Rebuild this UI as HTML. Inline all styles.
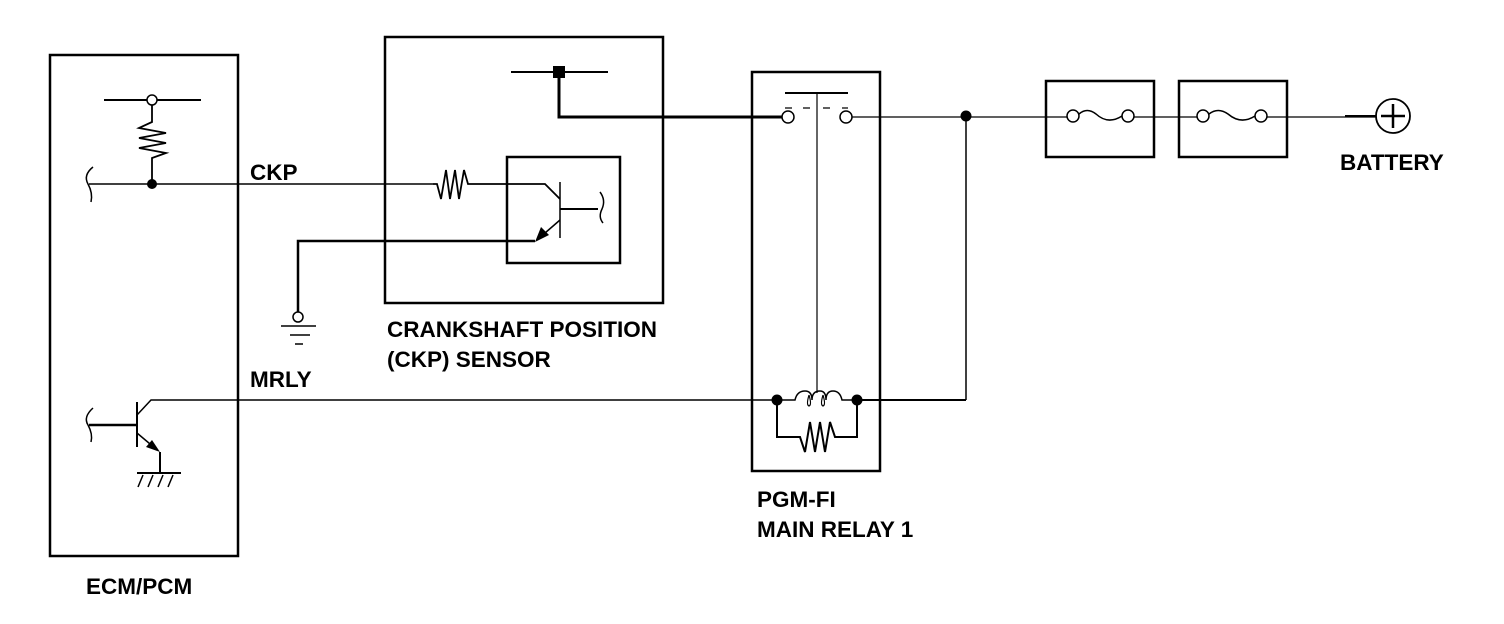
<!DOCTYPE html>
<html><head><meta charset="utf-8"><style>
html,body{margin:0;padding:0;background:#fff}
svg{display:block}
text{font-family:"Liberation Sans",Arial,sans-serif;font-weight:bold;font-size:22.5px;fill:#000}
</style></head><body>
<svg width="1504" height="624" viewBox="0 0 1504 624" xmlns="http://www.w3.org/2000/svg" fill="none" stroke="#000">
<!-- ECM box -->
<rect x="50" y="55" width="188" height="501" stroke-width="2.5"/>
<line x1="104" y1="100" x2="201" y2="100" stroke-width="2"/>
<circle cx="152" cy="100" r="5" fill="#fff" stroke-width="1.5"/>
<polyline points="152,105 152,122 139,128 166,133 139,138 166,143 139,148 166,153 152,158 152,184" stroke-width="1.8"/>
<circle cx="152" cy="184" r="5" fill="#000" stroke="none"/>
<path d="M93,167 Q83,175 88,184 Q93,193 91,202" stroke-width="1.5"/>
<line x1="89" y1="184" x2="433" y2="184" stroke-width="1.5"/>
<!-- MRLY transistor -->
<path d="M93,408 Q83,417 88,425 Q93,434 91,442" stroke-width="1.5"/>
<line x1="89" y1="425" x2="137" y2="425" stroke-width="2.5"/>
<line x1="137" y1="402" x2="137" y2="447" stroke-width="2"/>
<polyline points="137,415 151,400 780,400" stroke-width="1.5"/>
<line x1="137" y1="433" x2="156" y2="449" stroke-width="1.5"/>
<polygon points="160,452 146,447 152,440" fill="#000" stroke="none"/>
<line x1="160" y1="452" x2="160" y2="473" stroke-width="2"/>
<line x1="137" y1="473" x2="181" y2="473" stroke-width="2"/>
<path d="M143,475 L138,487 M153,475 L148,487 M163,475 L158,487 M173,475 L168,487" stroke-width="1.5"/>
<!-- ground -->
<polyline points="535,241 298,241 298,312" stroke-width="2.5"/>
<circle cx="298" cy="317" r="5" fill="#fff" stroke-width="1.5"/>
<line x1="281" y1="326" x2="316" y2="326" stroke-width="1.5"/>
<line x1="290" y1="335" x2="310" y2="335" stroke-width="1.5"/>
<line x1="295" y1="344" x2="303" y2="344" stroke-width="1.5"/>
<!-- CKP sensor -->
<rect x="385" y="37" width="278" height="266" stroke-width="2.5"/>
<line x1="511" y1="72" x2="608" y2="72" stroke-width="2"/>
<rect x="553" y="66" width="12" height="12" fill="#000" stroke="none"/>
<polyline points="559,72 559,117 783,117" stroke-width="3"/>
<rect x="507" y="157" width="113" height="106" stroke-width="2.5"/>
<polyline points="433,184 437,184 441,199 446,170 450,199 455,170 459,199 464,170 468,184 545,184 560,199" stroke-width="1.8"/>
<line x1="560" y1="182" x2="560" y2="238" stroke-width="1.5"/>
<line x1="560" y1="209" x2="598" y2="209" stroke-width="2"/>
<path d="M600,192 Q606,200 602,209 Q598,217 603,223" stroke-width="1.5"/>
<line x1="560" y1="220" x2="545" y2="233" stroke-width="1.5"/>
<polygon points="535,242 541,227 549,235" fill="#000" stroke="none"/>
<!-- relay -->
<rect x="752" y="72" width="128" height="399" stroke-width="2.5"/>
<line x1="785" y1="93" x2="848" y2="93" stroke-width="2"/>
<line x1="817" y1="93" x2="817" y2="393" stroke-width="1.2"/>
<path d="M785,108 L792,108 M803,108 L810,108 M823,108 L830,108 M842,108 L848,108" stroke-width="1.2"/>
<circle cx="788" cy="117" r="6" fill="#fff" stroke-width="1.5"/>
<circle cx="846" cy="117" r="6" fill="#fff" stroke-width="1.5"/>
<line x1="852" y1="117" x2="1067" y2="117" stroke-width="1.2"/>
<line x1="1134" y1="117" x2="1197" y2="117" stroke-width="1.2"/>
<line x1="1267" y1="117" x2="1376" y2="117" stroke-width="1.2"/>
<line x1="1345" y1="116" x2="1376" y2="116" stroke-width="2"/>
<circle cx="966" cy="116" r="5.5" fill="#000" stroke="none"/>
<line x1="966" y1="116" x2="966" y2="400" stroke-width="1.5"/>
<line x1="857" y1="400" x2="966" y2="400" stroke-width="2"/>
<path d="M777,400 L795,400 Q797,391 805,391 Q812,391 812,400 Q812,391 820,391 Q826,391 826,400 Q826,391 833,391 Q840,391 842,400 L857,400" stroke-width="1.5"/>
<path d="M809,395 Q806,405 809,406 Q812,405 809,395 M823,395 Q820,405 823,406 Q826,405 823,395" stroke-width="1.2"/>
<circle cx="777" cy="400" r="5.5" fill="#000" stroke="none"/>
<circle cx="857" cy="400" r="5.5" fill="#000" stroke="none"/>
<polyline points="777,400 777,437 800,437 805,452 810,422 815,452 820,422 825,452 830,422 835,437 857,437 857,400" stroke-width="2"/>
<!-- fuses -->
<rect x="1046" y="81" width="108" height="76" stroke-width="2.5"/>
<rect x="1179" y="81" width="108" height="76" stroke-width="2.5"/>
<circle cx="1073" cy="116" r="6" fill="#fff" stroke-width="1.5"/>
<circle cx="1128" cy="116" r="6" fill="#fff" stroke-width="1.5"/>
<path d="M1079,114 Q1087,107 1096,114 Q1108,125 1122,116" stroke-width="1.5"/>
<circle cx="1203" cy="116" r="6" fill="#fff" stroke-width="1.5"/>
<circle cx="1261" cy="116" r="6" fill="#fff" stroke-width="1.5"/>
<path d="M1209,114 Q1218,107 1228,114 Q1241,125 1255,116" stroke-width="1.5"/>
<circle cx="1393" cy="116" r="17" fill="#fff" stroke-width="1.8"/>
<line x1="1381" y1="116" x2="1405" y2="116" stroke-width="2.5"/>
<line x1="1393" y1="104" x2="1393" y2="128" stroke-width="2.5"/>
<!-- labels -->
<g stroke="none">
<text x="250" y="180">CKP</text>
<text x="250" y="387">MRLY</text>
<text x="86" y="594">ECM/PCM</text>
<text x="387" y="337">CRANKSHAFT POSITION</text>
<text x="387" y="367">(CKP) SENSOR</text>
<text x="757" y="507">PGM-FI</text>
<text x="757" y="537">MAIN RELAY 1</text>
<text x="1340" y="170">BATTERY</text>
</g>
</svg>
</body></html>
